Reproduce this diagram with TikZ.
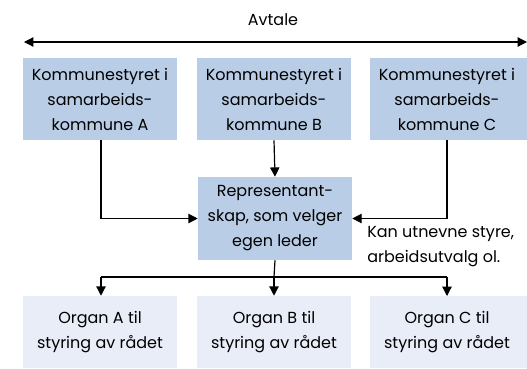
\documentclass[tikz,border=0pt]{standalone}
\usepackage{fontspec}
\setmainfont{Poppins}
\usetikzlibrary{arrows.meta}
\definecolor{topfill}{HTML}{B9CDE6}
\definecolor{botfill}{HTML}{E9EDF7}
\begin{document}
\begin{tikzpicture}[x=0.75pt,y=-0.75pt,
  txt/.style={font=\fontsize{12}{18.75}\selectfont},
  box/.style={rectangle,inner sep=0pt,minimum width=115.5pt,minimum height=61.5pt,align=center,txt},
  topbox/.style={box,fill=topfill},
  botbox/.style={box,fill=botfill,minimum height=54pt},
  conn/.style={line width=0.9pt,-{Triangle[length=7pt,width=7pt]}},
  plain/.style={line width=0.9pt}]
\useasboundingbox (0,0) rectangle (527,368);
\node[font=\fontsize{12}{12}\selectfont] (avt) at (273,20) {Avtale};
\coordinate (al) at (24,42);
\coordinate (ar) at (527,42);
\draw[line width=0.9pt,{Triangle[length=7pt,width=7pt]}-{Triangle[length=7pt,width=7pt]}] (al) -- (ar);
\node[topbox] (a) at (100,99) {Kommunestyret i\\samarbeids-\\kommune A};
\node[topbox] (b) at (274,99) {Kommunestyret i\\samarbeids-\\kommune B};
\node[topbox,minimum width=121.5pt] (c) at (451,99) {\hspace*{-6pt}Kommunestyret i\\\hspace*{-6pt}samarbeids-\\\hspace*{-6pt}kommune C};
\node[topbox,minimum width=115.5pt,minimum height=62.25pt] (r) at (275,218.5) {Representant-\\skap, som velger\\egen leder};
\node[txt,align=left,anchor=west,inner sep=0pt] (note) at (367,247) {Kan utnevne styre,\\arbeidsutvalg ol.};
\node[botbox] (oa) at (100,332) {Organ A til\\styring av rådet};
\node[botbox] (ob) at (274,332) {Organ B til\\styring av rådet};
\node[botbox,minimum width=121.5pt] (oc) at (451,332) {\hspace*{-6pt}Organ C til\\\hspace*{-6pt}styring av rådet};
\coordinate (as) at (101,140);
\coordinate (cs) at (447,140);
\coordinate (hl) at (101,277);
\coordinate (hm) at (274,277);
\coordinate (hr) at (447,277);
\coordinate (oct) at (447,296);
\draw[conn] (as) |- (r.west);
\draw[conn] (b.south) -- (r.north);
\draw[conn] (cs) |- (r.east);
\draw[plain] (r.south) -- (hm);
\draw[plain] (hl) -- (hr);
\draw[conn] (hl) -- (hl |- oa.north);
\draw[conn] (hm) -- (ob.north);
\draw[conn] (hr) -- (oct);
\end{tikzpicture}
\end{document}
